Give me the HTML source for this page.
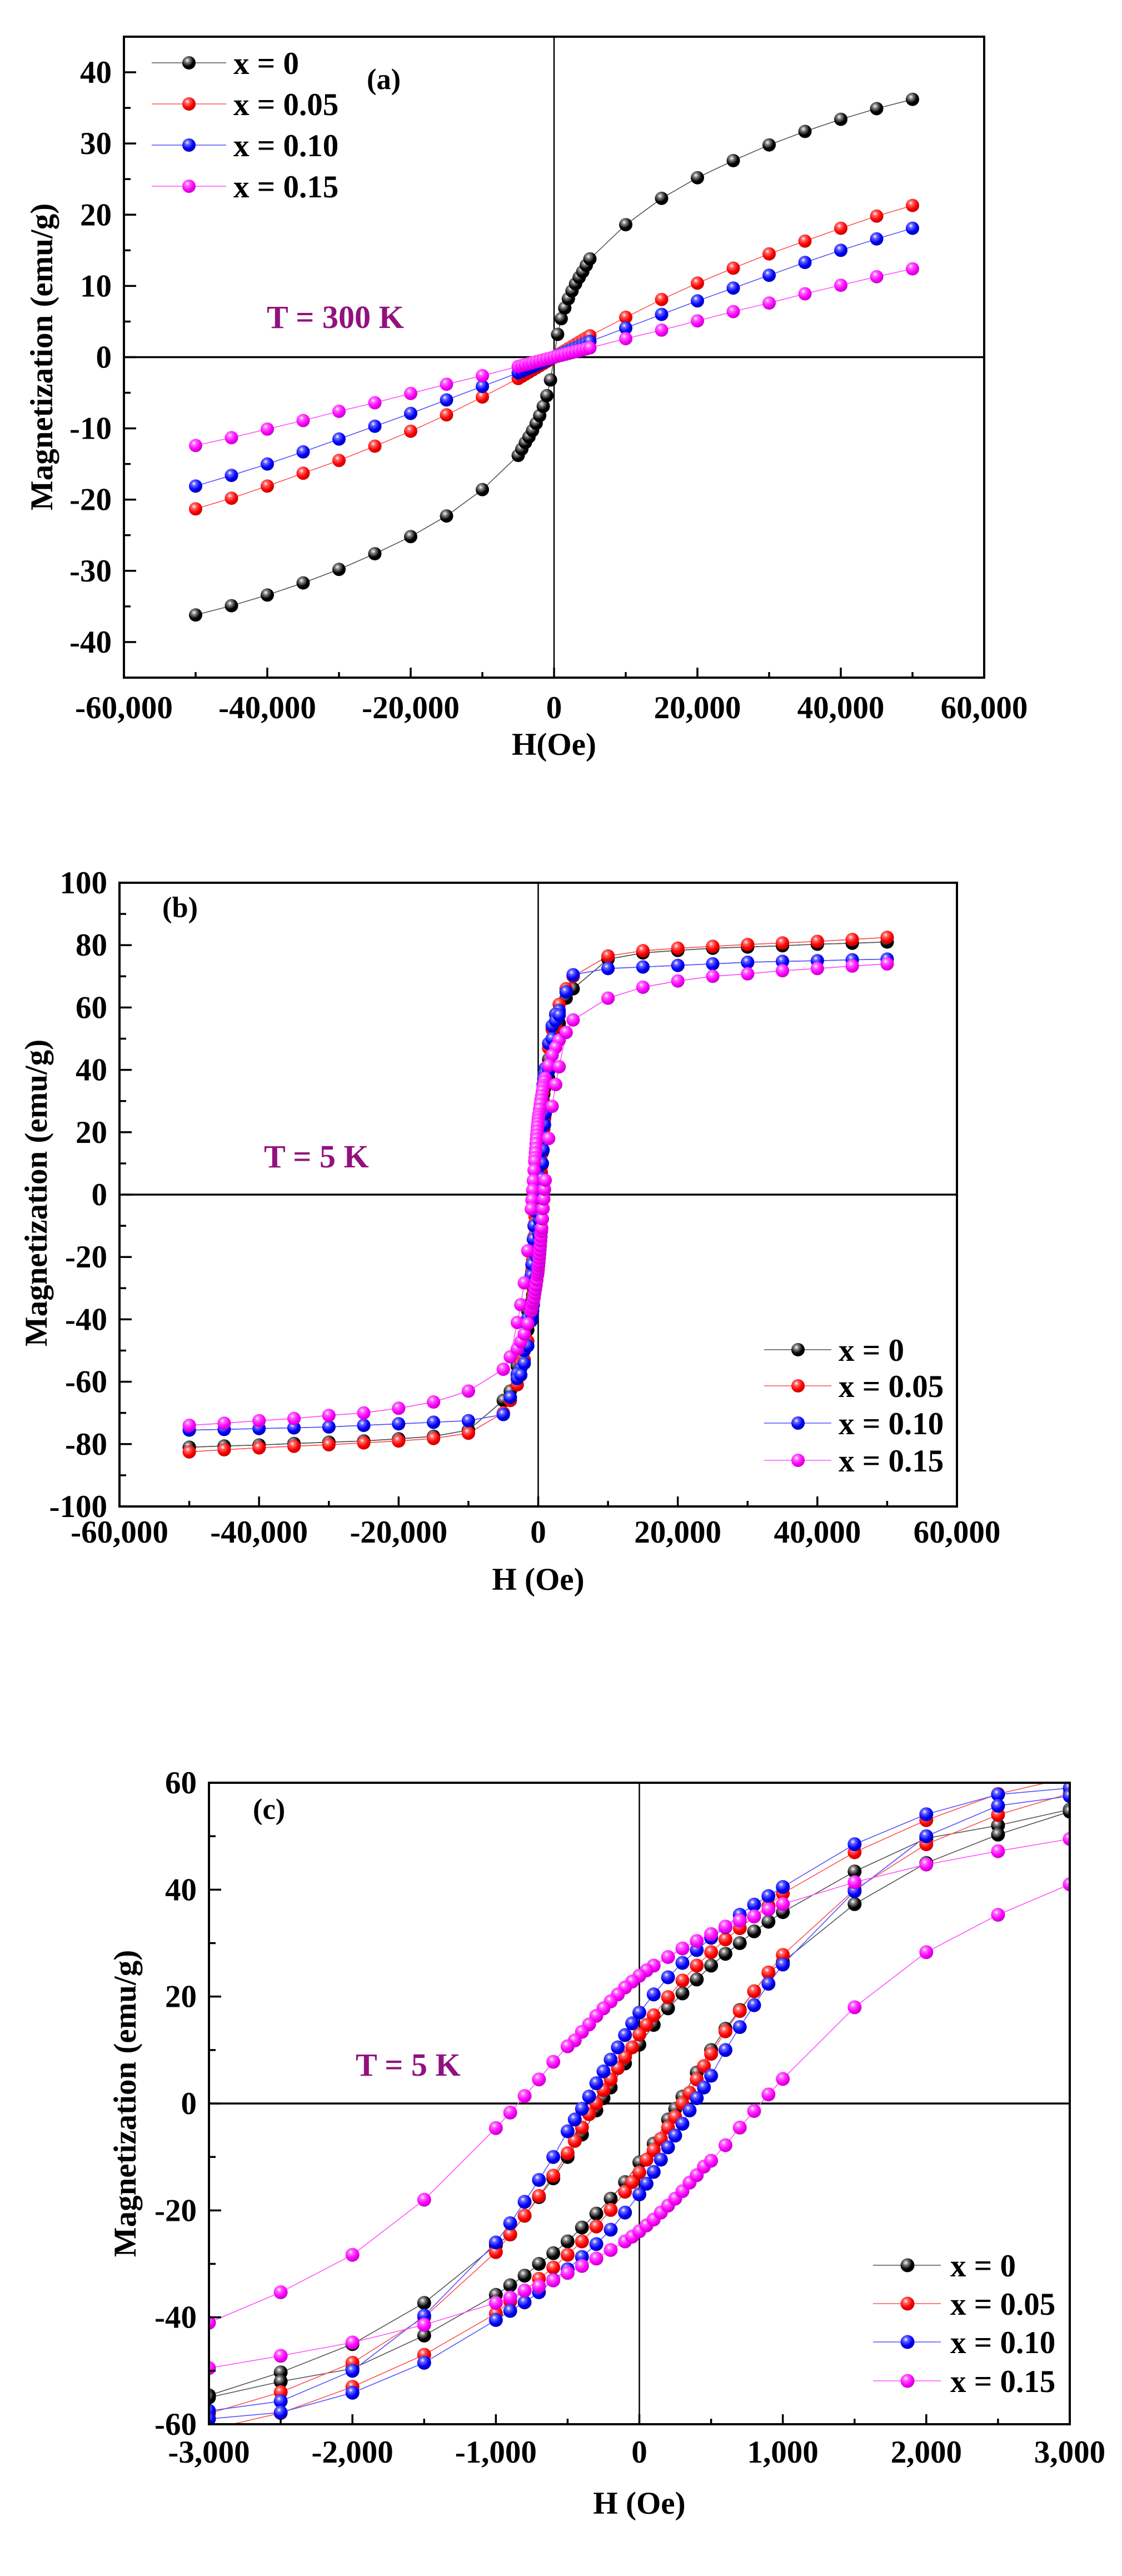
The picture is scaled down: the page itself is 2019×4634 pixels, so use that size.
<!DOCTYPE html>
<html><head><meta charset="utf-8"><style>
html,body{margin:0;padding:0;background:#fff;}
svg{display:block;}
text{font-family:"Liberation Serif",serif;font-weight:bold;}
</style></head><body>
<svg id="s" width="2019" height="4634" viewBox="0 0 2019 4634" xmlns="http://www.w3.org/2000/svg">
<defs>
<radialGradient id="gk" cx="38%" cy="32%" r="65%"><stop offset="0" stop-color="#fff"/><stop offset="0.25" stop-color="#888"/><stop offset="0.7" stop-color="#000"/></radialGradient>
<radialGradient id="gr" cx="38%" cy="32%" r="65%"><stop offset="0" stop-color="#fff"/><stop offset="0.25" stop-color="#f66"/><stop offset="0.7" stop-color="#f00"/><stop offset="1" stop-color="#c00"/></radialGradient>
<radialGradient id="gb" cx="38%" cy="32%" r="65%"><stop offset="0" stop-color="#fff"/><stop offset="0.25" stop-color="#66f"/><stop offset="0.7" stop-color="#00f"/><stop offset="1" stop-color="#00b"/></radialGradient>
<radialGradient id="gm" cx="38%" cy="32%" r="65%"><stop offset="0" stop-color="#fff"/><stop offset="0.25" stop-color="#f6f"/><stop offset="0.7" stop-color="#f0f"/><stop offset="1" stop-color="#c0c"/></radialGradient>
<clipPath id="ca"><rect x="223" y="66" width="1548" height="1153"/></clipPath>
<clipPath id="cb"><rect x="215" y="1588" width="1507" height="1122"/></clipPath>
<clipPath id="cc"><rect x="376" y="3207" width="1549" height="1154"/></clipPath>
</defs>
</svg>
<script>
var S=document.getElementById('s'),NS='http://www.w3.org/2000/svg';
function el(t,a,p,txt){if(typeof p==='string'){txt=p;p=null;}var e=document.createElementNS(NS,t);for(var k in a)e.setAttribute(k,a[k]);if(txt!==undefined)e.textContent=txt;(p||S).appendChild(e);return e;}
var COL=[['#000','gk'],['#f00','gr'],['#00f','gb'],['#f0f','gm']];
var LCOL=['#555','#f55','#55f','#f5f'];
function fmt(v){v=Math.round(v);var s=Math.abs(v).toString().replace(/\B(?=(\d{3})+(?!\d))/g,',');return (v<0?'-':'')+s;}
function interp(tab,h){
  if(h<=tab[0][0])return tab[0][1];
  for(var i=1;i<tab.length;i++){if(h<=tab[i][0]){var a=tab[i-1],b=tab[i];return a[1]+(b[1]-a[1])*(h-a[0])/(b[0]-a[0]);}}
  return tab[tab.length-1][1];}
function panel(c){
  var X=function(h){return c.x0+(h-c.xmin)/(c.xmax-c.xmin)*(c.x1-c.x0);};
  var Y=function(m){return c.y1-(m-c.ymin)/(c.ymax-c.ymin)*(c.y1-c.y0);};
  var g=el('g',{'clip-path':'url(#'+c.clip+')'});
  el('line',{x1:c.x0,x2:c.x1,y1:Y(0),y2:Y(0),stroke:'#000','stroke-width':3.5},g);
  el('line',{x1:X(0),x2:X(0),y1:c.y0,y2:c.y1,stroke:'#000','stroke-width':2.5},g);
  c.series.forEach(function(ser,i){
    ser.forEach(function(pts){
      var d=pts.map(function(p,j){return (j?'L':'M')+X(p[0]).toFixed(1)+' '+Y(p[1]).toFixed(1);}).join('');
      el('path',{d:d,fill:'none',stroke:LCOL[i],'stroke-width':1.6},g);
    });
  });
  c.series.forEach(function(ser,i){
    ser.forEach(function(pts){pts.forEach(function(p){
      el('circle',{cx:X(p[0]).toFixed(1),cy:Y(p[1]).toFixed(1),r:c.r,fill:'url(#'+COL[i][1]+')'},g);});});
  });
  el('rect',{x:c.x0,y:c.y0,width:c.x1-c.x0,height:c.y1-c.y0,fill:'none',stroke:'#000','stroke-width':4});
  var n=Math.round((c.ymax-c.ymin)/c.ymn);
  for(var k=0;k<=n;k++){var v=c.ymin+k*c.ymn;var maj=Math.abs(Math.round(v/c.ymj)*c.ymj-v)<1e-6;
    el('line',{x1:c.x0,x2:c.x0+(maj?22:12),y1:Y(v),y2:Y(v),stroke:'#000','stroke-width':3.5});
    if(maj)el('text',{x:c.x0-22,y:Y(v)+19,'text-anchor':'end','font-size':c.fs},fmt(v));}
  n=Math.round((c.xmax-c.xmin)/c.xmn);
  for(var k=0;k<=n;k++){var v=c.xmin+k*c.xmn;var maj=Math.abs(Math.round(v/c.xmj)*c.xmj-v)<1e-6;
    el('line',{x1:X(v),x2:X(v),y1:c.y1,y2:c.y1-(maj?18:10),stroke:'#000','stroke-width':3.5});
    if(maj)el('text',{x:X(v),y:c.xly,'text-anchor':'middle','font-size':c.fs},fmt(v));}
  el('text',{x:(c.x0+c.x1)/2,y:c.xty,'text-anchor':'middle','font-size':c.fs},c.xt);
  el('text',{x:0,y:0,'text-anchor':'middle','font-size':c.fs,transform:'translate('+c.ytx+','+c.yty+') rotate(-90)'},'Magnetization (emu/g)');
  el('text',{x:c.lab[0],y:c.lab[1],'font-size':c.fs*0.92},c.lab[2]);
  el('text',{x:c.tl[0],y:c.tl[1],'font-size':c.fs*1.02,fill:'#92117f'},c.tl[2]);
  var names=['x = 0','x = 0.05','x = 0.10','x = 0.15'];
  for(var i=0;i<4;i++){var ly=c.leg.y[i];
    el('line',{x1:c.leg.l0,x2:c.leg.l1,y1:ly,y2:ly,stroke:LCOL[i],'stroke-width':1.6});
    el('circle',{cx:c.leg.m,cy:ly,r:c.r,fill:'url(#'+COL[i][1]+')'});
    el('text',{x:c.leg.t,y:ly+20,'font-size':c.fs},names[i]);}
}
var Atab=[
 [[0,0],[200,1.5],[500,3.2],[1000,5.4],[1500,6.9],[2000,8.2],[2500,9.3],[3000,10.3],[3500,11.2],[4000,12],[4500,12.9],[5000,13.8],[10000,18.6],[15000,22.3],[20000,25.2],[25000,27.6],[30000,29.8],[35000,31.7],[40000,33.4],[45000,34.9],[50000,36.2]],
 [[0,0],[5000,3.0],[10000,5.6],[15000,8.1],[20000,10.4],[25000,12.5],[30000,14.5],[35000,16.3],[40000,18.1],[45000,19.8],[50000,21.3]],
 [[0,0],[5000,2.2],[10000,4.1],[15000,6],[20000,7.9],[25000,9.7],[30000,11.5],[35000,13.3],[40000,15],[45000,16.6],[50000,18.1]],
 [[0,0],[5000,1.3],[10000,2.6],[15000,3.8],[20000,5.1],[25000,6.4],[30000,7.6],[35000,8.9],[40000,10.1],[45000,11.3],[50000,12.4]]];
var AH=[];for(var h=-50000;h<=-10000;h+=5000)AH.push(h);for(h=-5000;h<=5000;h+=500)AH.push(h);for(h=10000;h<=50000;h+=5000)AH.push(h);
var Aser=Atab.map(function(t){return [AH.map(function(h){var m=interp(t,Math.abs(h));return [h,h<0?-m:m];})];});
panel({x0:223,x1:1771,y0:66,y1:1219,xmin:-60000,xmax:60000,ymin:-45,ymax:45,ymj:10,ymn:5,xmj:20000,xmn:10000,
 clip:'ca',r:12,fs:57,series:Aser,xly:1292,xty:1358,xt:'H(Oe)',ytx:94,yty:642,
 lab:[660,160,'(a)'],tl:[480,590,'T = 300 K'],leg:{l0:273,l1:407,m:340,t:420,y:[113,187,261,335]}});
var C=[
[[3000,55],[2500,52],[2000,49.6],[1500,43.4],[1000,35.8],[900,34],[800,32.2],[700,30],[600,28],[500,25.8],[400,23.2],[300,20.6],[200,17.8],[100,14.7],[0,11],[-100,7.5],[-200,3],[-250,1],[-300,-1.3],[-400,-5.8],[-500,-10],[-600,-14],[-700,-17.5],[-800,-21],[-900,-24.5],[-1000,-26.5],[-1500,-37.3],[-2000,-45],[-2500,-50.3],[-3000,-54.6]],
[[3000,61],[2500,57.9],[2000,53],[1500,47],[1000,39.3],[900,37],[800,35],[700,32.8],[600,30.7],[500,28.3],[400,25.8],[300,23],[200,19.9],[100,16.5],[50,14.7],[0,12.9],[-50,10.5],[-100,8.7],[-150,6.6],[-200,4.5],[-250,2.5],[-300,0],[-350,-2],[-400,-4.5],[-450,-7],[-500,-9.3],[-600,-13.5],[-700,-17.3],[-800,-21],[-900,-24.5],[-1000,-27.8],[-1500,-40],[-2000,-48.5],[-2500,-54],[-3000,-58]],
[[3000,59],[2500,57.8],[2000,54.1],[1500,48.5],[1000,40.5],[900,38.8],[800,37.2],[700,35.3],[600,33],[500,31],[400,28.7],[300,26.3],[200,23.6],[100,20.4],[0,17],[-50,15],[-100,12.8],[-150,10.5],[-200,8.2],[-250,6],[-300,3.8],[-350,1.3],[-400,-1],[-450,-3],[-500,-5.2],[-600,-10],[-700,-14.3],[-800,-18.4],[-900,-22.4],[-1000,-26],[-1500,-39.7],[-2000,-50],[-2500,-55.7],[-3000,-57.5]],
[[3000,49.5],[2500,47.2],[2000,44.7],[1500,41.4],[1000,37.3],[900,36.3],[800,35],[700,34.2],[600,33.1],[500,31.7],[400,30.4],[300,29],[200,27.4],[100,25.8],[50,24.9],[0,23.9],[-50,22.8],[-100,21.7],[-150,20.4],[-200,19.1],[-250,17.8],[-300,16.4],[-350,14.8],[-400,13.4],[-450,11.8],[-500,10.7],[-600,7.8],[-700,4.5],[-800,1.4],[-900,-1.7],[-1000,-4.6],[-1500,-18],[-2000,-28.3],[-2500,-35.3],[-3000,-41]]];
function loop(up){var lo=up.map(function(p){return [-p[0],-p[1]];});return [up,lo];}
var Cser=C.map(loop);
panel({x0:376,x1:1925,y0:3207,y1:4361,xmin:-3000,xmax:3000,ymin:-60,ymax:60,ymj:20,ymn:10,xmj:1000,xmn:500,
 clip:'cc',r:12.5,fs:57,series:Cser,xly:4430,xty:4522,xt:'H (Oe)',ytx:244,yty:3784,
 lab:[455,3272,'(c)'],tl:[640,3734,'T = 5 K'],leg:{l0:1571,l1:1693,m:1633,t:1710,y:[4075,4144,4213,4283]}});
var BIG=[
[[4000,63],[5000,66],[10000,75.5],[15000,77.5],[20000,78.3],[25000,79],[30000,79.4],[35000,79.8],[40000,80.3],[45000,80.6],[50000,81]],
[[4000,66],[5000,70],[10000,76.5],[15000,78.2],[20000,79],[25000,79.6],[30000,80.2],[35000,80.7],[40000,81.2],[45000,81.8],[50000,82.5]],
[[4000,65],[5000,70.5],[10000,72.5],[15000,73],[20000,73.5],[25000,74],[30000,74.5],[35000,74.8],[40000,75],[45000,75.3],[50000,75.5]],
[[4000,52],[5000,56],[10000,63],[15000,66.5],[20000,68.5],[25000,70],[30000,70.8],[35000,71.8],[40000,72.5],[45000,73.3],[50000,74]]];
var Bser=C.map(function(ct,i){var big=BIG[i];var pos=big.slice().reverse();var neg=big.map(function(p){return [-p[0],-p[1]];});
  return loop(pos.concat(ct).concat(neg));});
panel({x0:215,x1:1722,y0:1588,y1:2710,xmin:-60000,xmax:60000,ymin:-100,ymax:100,ymj:20,ymn:10,xmj:20000,xmn:10000,
 clip:'cb',r:12,fs:57,series:Bser,xly:2775,xty:2860,xt:'H (Oe)',ytx:84,yty:2146,
 lab:[292,1650,'(b)'],tl:[475,2100,'T = 5 K'],leg:{l0:1375,l1:1496,m:1436,t:1509,y:[2428,2493,2560,2627]}});
</script>
</body></html>
